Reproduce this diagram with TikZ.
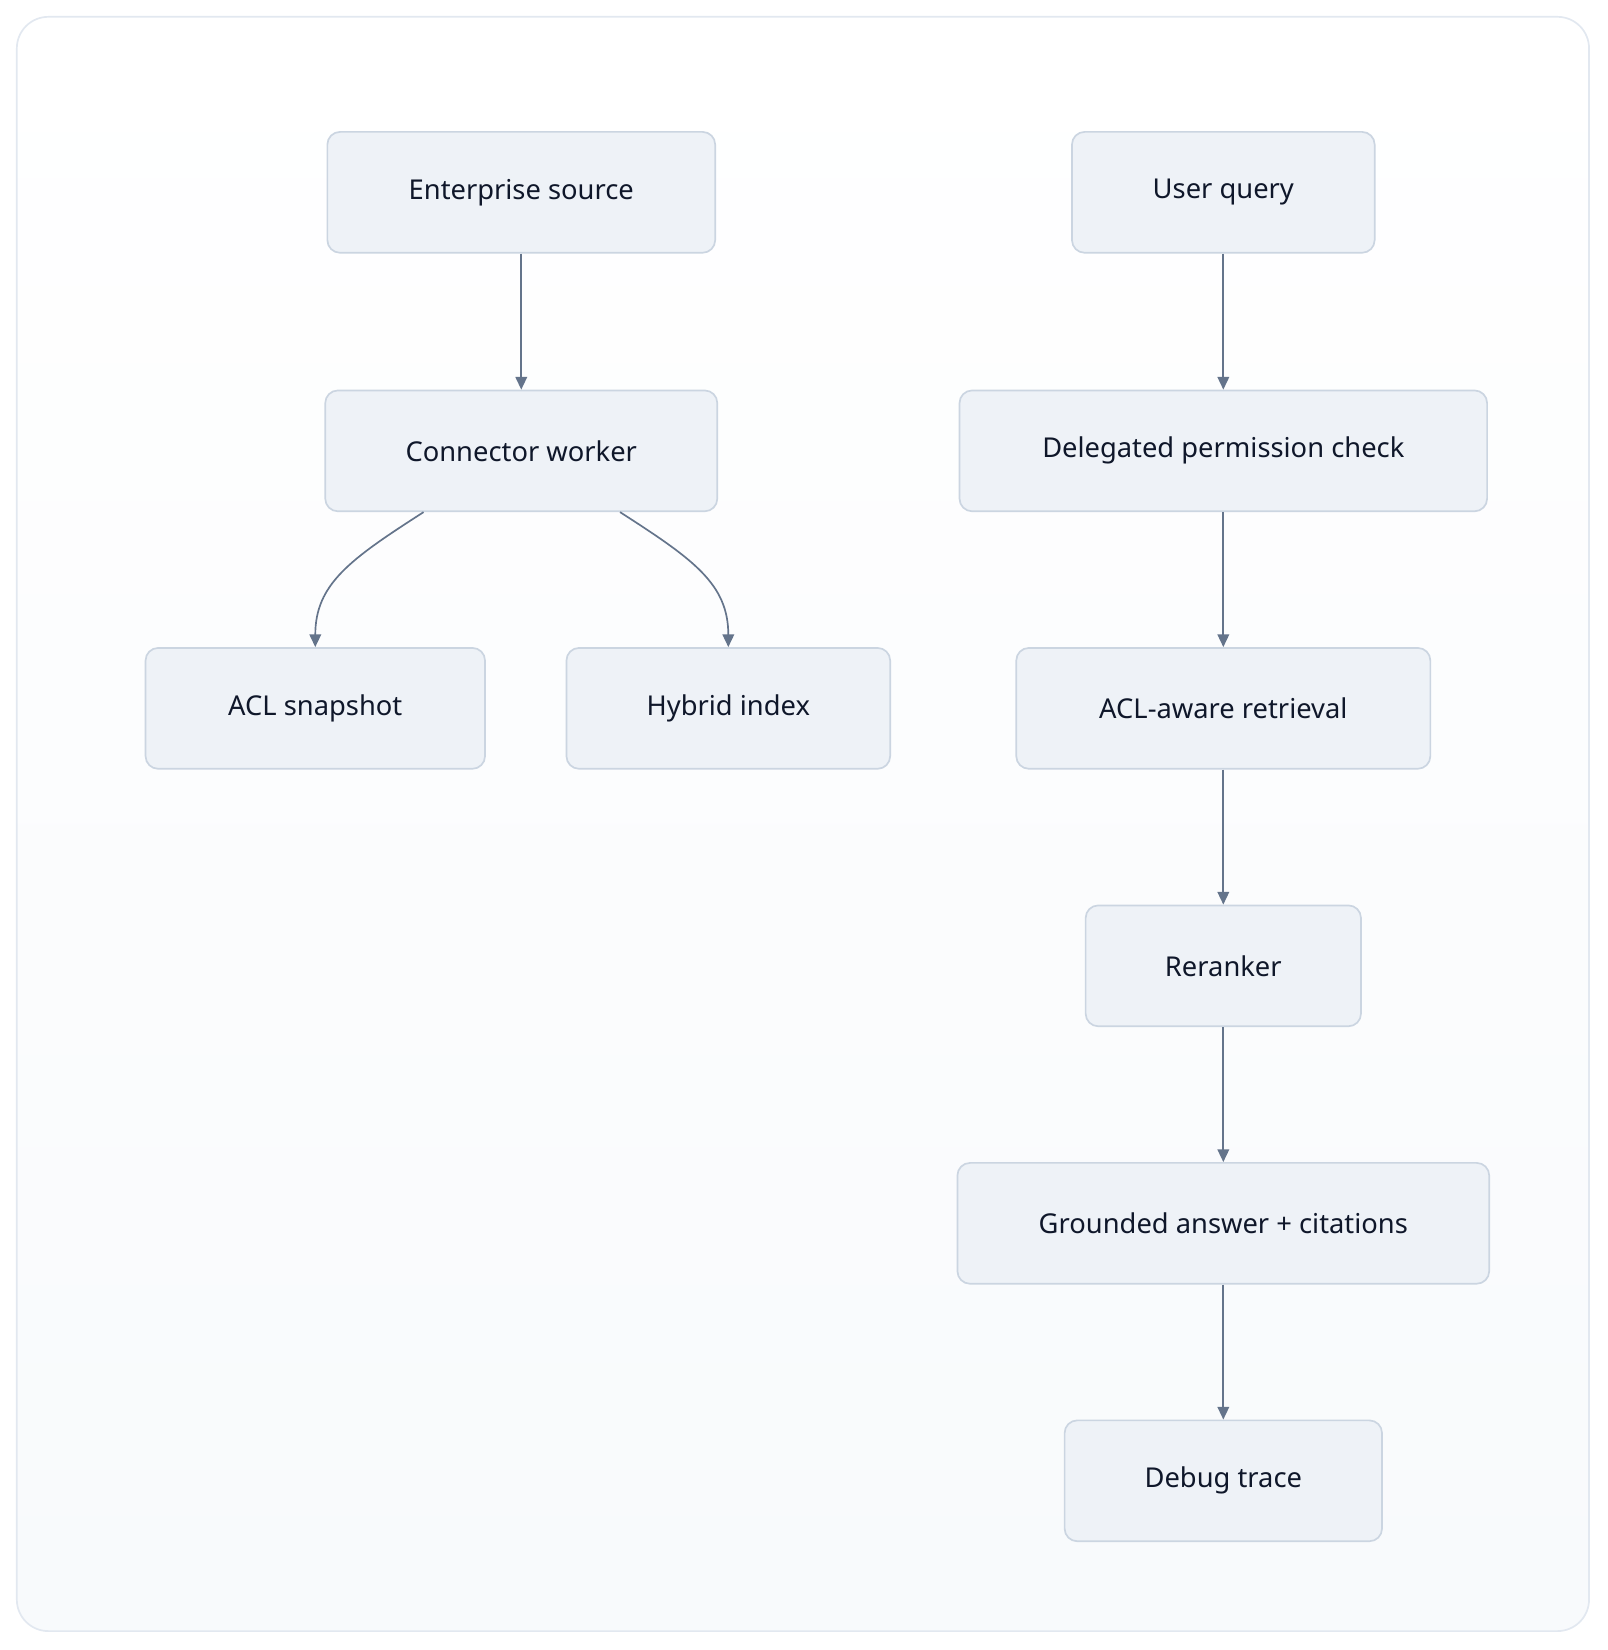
\documentclass[tikz,border=0pt]{standalone}
\usepackage{fontspec}
\setmainfont{Noto Sans}
\usetikzlibrary{arrows.meta,calc}
\definecolor{nfill}{HTML}{EEF2F7}
\definecolor{nline}{HTML}{CBD5E1}
\definecolor{arr}{HTML}{64748B}
\definecolor{txt}{HTML}{0F172A}
\definecolor{bgb}{HTML}{F8FAFC}
\definecolor{frm}{HTML}{E2E8F0}
\begin{document}
\begin{tikzpicture}[x=0.5pt,y=-0.5pt,
  box/.style={draw=nline,fill=nfill,rounded corners=6pt,line width=0.8pt,minimum height=57.5pt,inner sep=0pt,text=txt,font=\fontsize{13}{15}\selectfont},
  con/.style={draw=arr,line width=0.8pt,-{Triangle[length=6pt,width=5.5pt]}}]
\useasboundingbox (0,0) rectangle (1530,1570);
\shade[top color=white,bottom color=bgb,draw=frm,line width=0.8pt,rounded corners=15pt] (16,16) rectangle (1512,1552);
\node[box,minimum width=184.5pt] (es) at (496,183) {Enterprise source};
\node[box,minimum width=144pt] (uq) at (1164,183) {User query};
\node[box,minimum width=186.5pt] (cw) at (496,429) {Connector worker};
\node[box,minimum width=251pt] (dp) at (1164,429) {Delegated permission check};
\node[box,minimum width=161.5pt] (acl) at (300,674) {ACL snapshot};
\node[box,minimum width=154pt] (hi) at (693,674) {Hybrid index};
\node[box,minimum width=197pt] (ar) at (1164,674) {ACL-aware retrieval};
\node[box,minimum width=131pt] (rr) at (1164,919) {Reranker};
\node[box,minimum width=253pt] (ga) at (1164,1164) {Grounded answer + citations};
\node[box,minimum width=151pt] (dt) at (1164,1409) {Debug trace};
\draw[con] (es) -- (cw);
\draw[con] (uq) -- (dp);
\draw[con] (dp) -- (ar);
\draw[con] (ar) -- (rr);
\draw[con] (rr) -- (ga);
\draw[con] (ga) -- (dt);
\draw[con] ($(cw.south)+(-93,0)$) .. controls ++(-70,45) and ++(0,-60) .. (acl.north);
\draw[con] ($(cw.south)+(94,0)$) .. controls ++(70,45) and ++(0,-60) .. (hi.north);
\end{tikzpicture}
\end{document}
